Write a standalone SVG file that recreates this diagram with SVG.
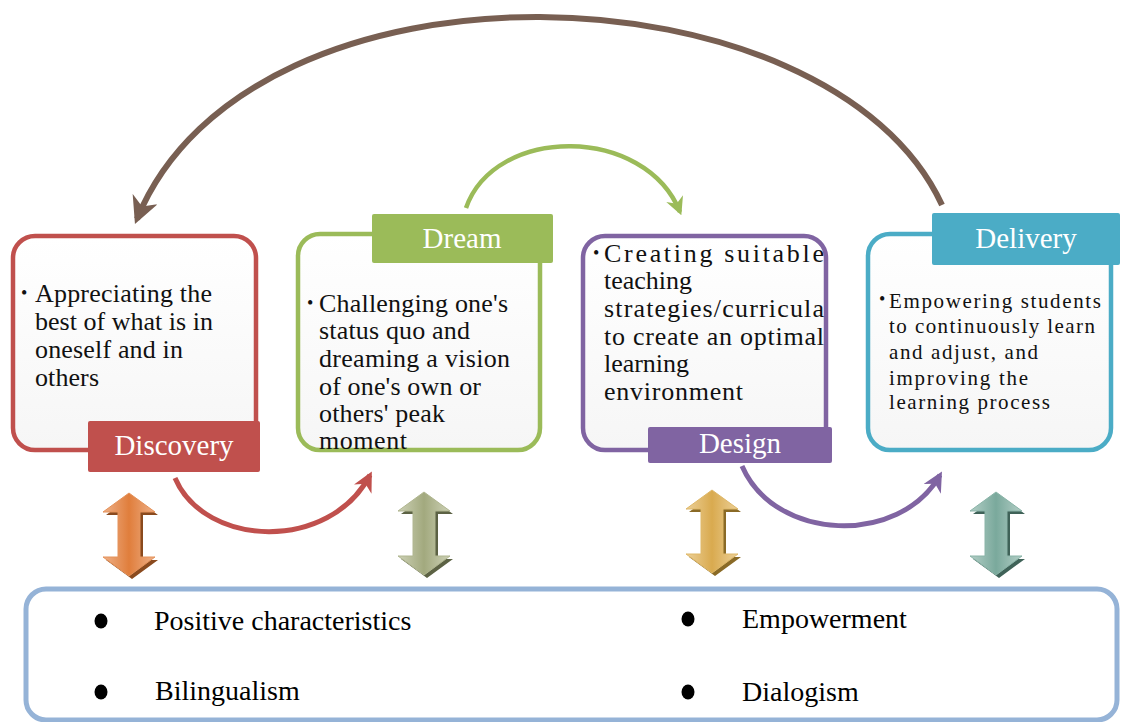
<svg xmlns="http://www.w3.org/2000/svg" width="1121" height="722" viewBox="0 0 1121 722">
<style>
.box{fill:url(#boxfill);stroke-width:4.5}
.lbl{font-family:"Liberation Serif","Times New Roman",serif;font-size:29px;fill:#ffffff;text-anchor:middle}
.txt{font-family:"Liberation Serif","Times New Roman",serif;font-size:26px;fill:#111111}
.txts{font-family:"Liberation Serif","Times New Roman",serif;font-size:21px;fill:#111111}
.bul{font-family:"Liberation Serif","Times New Roman",serif;font-size:18px;fill:#111111}
.btxt{font-family:"Liberation Serif","Times New Roman",serif;font-size:28px;fill:#000000}
.conn{fill:none}
</style>
<defs>
<linearGradient id="boxfill" x1="0" y1="0" x2="0" y2="1">
<stop offset="0" stop-color="#ffffff"/><stop offset="1" stop-color="#f6f6f6"/>
</linearGradient>
<linearGradient id="gOr" x1="0" y1="0" x2="1" y2="0">
<stop offset="0" stop-color="#eeb088"/><stop offset="0.5" stop-color="#e07e3c"/><stop offset="1" stop-color="#eeb088"/>
</linearGradient>
<linearGradient id="gOl" x1="0" y1="0" x2="1" y2="0">
<stop offset="0" stop-color="#cdd1b6"/><stop offset="0.5" stop-color="#a2a97e"/><stop offset="1" stop-color="#cdd1b6"/>
</linearGradient>
<linearGradient id="gGo" x1="0" y1="0" x2="1" y2="0">
<stop offset="0" stop-color="#ecd098"/><stop offset="0.5" stop-color="#d9aa4f"/><stop offset="1" stop-color="#ecd098"/>
</linearGradient>
<linearGradient id="gTe" x1="0" y1="0" x2="1" y2="0">
<stop offset="0" stop-color="#b3cec6"/><stop offset="0.5" stop-color="#7aa99c"/><stop offset="1" stop-color="#b3cec6"/>
</linearGradient>
<marker id="mBrown" viewBox="0 0 10 10" refX="8" refY="5" markerWidth="4.5" markerHeight="4.5" orient="auto" markerUnits="strokeWidth">
<path d="M0,0 L10,5 L0,10 L3,5 Z" fill="#785f52"/>
</marker>
<marker id="mGreen" viewBox="0 0 10 10" refX="8" refY="5" markerWidth="4" markerHeight="4" orient="auto" markerUnits="strokeWidth">
<path d="M0,0 L10,5 L0,10 L3,5 Z" fill="#9bbb59"/>
</marker>
<marker id="mRed" viewBox="0 0 10 10" refX="8" refY="5" markerWidth="4" markerHeight="4" orient="auto" markerUnits="strokeWidth">
<path d="M0,0 L10,5 L0,10 L3,5 Z" fill="#c0504d"/>
</marker>
<marker id="mPurple" viewBox="0 0 10 10" refX="8" refY="5" markerWidth="4" markerHeight="4" orient="auto" markerUnits="strokeWidth">
<path d="M0,0 L10,5 L0,10 L3,5 Z" fill="#8064a2"/>
</marker>
<polygon id="dbl" points="0,0 26,19 11,19 11,64 26,64 0,83 -26,64 -11,64 -11,19 -26,19"/>
</defs>
<rect width="1121" height="722" fill="#ffffff"/>

<g id="connectors">
<path class="conn" d="M 942 205 C 830 -38, 250 -58, 137 219" stroke="#785f52" stroke-width="6" marker-end="url(#mBrown)"/>
<path class="conn" d="M 466 208 C 495 125, 645 125, 680 212" stroke="#9bbb59" stroke-width="4.5" marker-end="url(#mGreen)"/>
<path class="conn" d="M 175 478 C 205 548, 330 552, 370 475" stroke="#c0504d" stroke-width="5" marker-end="url(#mRed)"/>
<path class="conn" d="M 742 466 C 775 542, 900 546, 940 475" stroke="#8064a2" stroke-width="5" marker-end="url(#mPurple)"/>
</g>

<g id="discovery">
<rect class="box" x="13" y="236" width="243" height="214" rx="22" stroke="#c0504d"/>
<text class="bul" x="21" y="299">•</text>
<text class="txt" x="35" y="302" textLength="177" lengthAdjust="spacing">Appreciating the</text>
<text class="txt" x="35" y="330" textLength="178" lengthAdjust="spacing">best of what is in</text>
<text class="txt" x="35" y="358" textLength="148" lengthAdjust="spacing">oneself and in</text>
<text class="txt" x="35" y="386" textLength="64" lengthAdjust="spacing">others</text>
<rect x="88" y="421" width="172" height="51" rx="2" fill="#c0504d"/>
<text class="lbl" x="174" y="455">Discovery</text>
</g>

<g id="dream">
<rect class="box" x="298" y="234" width="242" height="216" rx="22" stroke="#9bbb59"/>
<text class="bul" x="307" y="309">•</text>
<text class="txt" x="319" y="312" textLength="189" lengthAdjust="spacing">Challenging one's</text>
<text class="txt" x="319" y="339" textLength="151" lengthAdjust="spacing">status quo and</text>
<text class="txt" x="319" y="367" textLength="191" lengthAdjust="spacing">dreaming a vision</text>
<text class="txt" x="319" y="395" textLength="162" lengthAdjust="spacing">of one's own or</text>
<text class="txt" x="319" y="422" textLength="126" lengthAdjust="spacing">others' peak</text>
<text class="txt" x="319" y="449" textLength="88" lengthAdjust="spacing">moment</text>
<rect x="372" y="214" width="181" height="49" rx="2" fill="#9bbb59"/>
<text class="lbl" x="462" y="248">Dream</text>
</g>

<g id="design">
<rect class="box" x="583" y="236" width="243" height="214" rx="22" stroke="#8064a2"/>
<text class="bul" x="593" y="259">•</text>
<text class="txt" x="604" y="262" textLength="220" lengthAdjust="spacing">Creating suitable</text>
<text class="txt" x="604" y="289" textLength="88" lengthAdjust="spacing">teaching</text>
<text class="txt" x="604" y="317" textLength="220" lengthAdjust="spacing">strategies/curricula</text>
<text class="txt" x="604" y="345" textLength="220" lengthAdjust="spacing">to create an optimal</text>
<text class="txt" x="604" y="372" textLength="85" lengthAdjust="spacing">learning</text>
<text class="txt" x="604" y="400" textLength="139" lengthAdjust="spacing">environment</text>
<rect x="648" y="427" width="184" height="36" rx="2" fill="#8064a2"/>
<text class="lbl" x="740" y="453">Design</text>
</g>

<g id="delivery">
<rect class="box" x="868" y="234" width="243" height="216" rx="22" stroke="#4bacc6"/>
<text class="bul" x="879" y="305">•</text>
<text class="txts" x="889" y="308" textLength="212" lengthAdjust="spacing">Empowering students</text>
<text class="txts" x="889" y="333" textLength="206" lengthAdjust="spacing">to continuously learn</text>
<text class="txts" x="889" y="359" textLength="149" lengthAdjust="spacing">and adjust, and</text>
<text class="txts" x="889" y="385" textLength="139" lengthAdjust="spacing">improving the</text>
<text class="txts" x="889" y="409" textLength="161" lengthAdjust="spacing">learning process</text>
<rect x="932" y="213" width="188" height="52" rx="2" fill="#4bacc6"/>
<text class="lbl" x="1026" y="248">Delivery</text>
</g>

<g id="arrow-orange">
<use href="#dbl" transform="translate(132,496)" fill="#8a4a1e"/>
<use href="#dbl" transform="translate(129,493)" fill="url(#gOr)" stroke="#e4925a" stroke-width="1"/>
</g>
<g id="arrow-olive">
<use href="#dbl" transform="translate(427,495)" fill="#5c6244"/>
<use href="#dbl" transform="translate(424,492)" fill="url(#gOl)" stroke="#b0b690" stroke-width="1"/>
</g>
<g id="arrow-gold">
<use href="#dbl" transform="translate(715,493)" fill="#8a6a26"/>
<use href="#dbl" transform="translate(712,490)" fill="url(#gGo)" stroke="#dfb868" stroke-width="1"/>
</g>
<g id="arrow-teal">
<use href="#dbl" transform="translate(999,495)" fill="#3f6258"/>
<use href="#dbl" transform="translate(996,492)" fill="url(#gTe)" stroke="#8ab4a8" stroke-width="1"/>
</g>

<g id="values">
<rect x="26" y="589" width="1091" height="131" rx="20" fill="#ffffff" stroke="#95b3d7" stroke-width="5"/>
<ellipse cx="101" cy="621" rx="6.5" ry="7.5" fill="#000000"/>
<text class="btxt" x="154" y="630">Positive characteristics</text>
<ellipse cx="101" cy="692" rx="6.5" ry="7.5" fill="#000000"/>
<text class="btxt" x="155" y="700">Bilingualism</text>
<ellipse cx="688" cy="619" rx="6.5" ry="7.5" fill="#000000"/>
<text class="btxt" x="742" y="628">Empowerment</text>
<ellipse cx="688" cy="692" rx="6.5" ry="7.5" fill="#000000"/>
<text class="btxt" x="742" y="701">Dialogism</text>
</g>
</svg>
